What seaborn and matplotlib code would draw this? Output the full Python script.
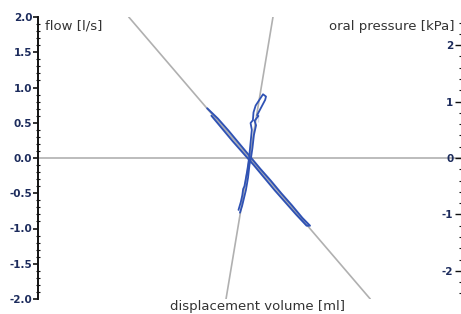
import numpy as np
import pandas as pd
import matplotlib
matplotlib.use("Agg")
import matplotlib.pyplot as plt
from matplotlib.ticker import MultipleLocator
import seaborn as sns

# ----------- Data -----------
# reference lines: flow vs volume and pressure vs volume
ref_flow_vol = [-0.571, 0.571]
ref_flow = [2.0, -2.0]
ref_pres_vol = [-0.111, 0.111]
ref_pres = [-2.5, 2.5]

# measured flow loop (l/s) against displacement volume (ml)
flow_vol = [-0.20, -0.15, -0.10, -0.05, 0.00, 0.05, 0.10, 0.15, 0.20, 0.25, 0.286,
            0.27, 0.22, 0.17, 0.12, 0.07, 0.02, -0.03, -0.08, -0.13, -0.18, -0.20]
flow = [0.71, 0.56, 0.39, 0.21, 0.03, -0.15, -0.32, -0.50, -0.67, -0.85, -0.96,
        -0.96, -0.80, -0.63, -0.46, -0.28, -0.10, 0.07, 0.24, 0.42, 0.60, 0.70]

# measured oral pressure loop (kPa) against displacement volume (ml)
pres_vol = [-0.045, -0.035, -0.026, -0.017, -0.007, 0.000, 0.007, 0.014, 0.021, 0.031,
            0.024, 0.042, 0.036, 0.042, 0.074, 0.078,
            0.064, 0.029, 0.019, 0.016, 0.005, 0.011, 0.004, -0.002, -0.010, -0.020,
            -0.024, -0.030, -0.034, -0.041, -0.052, -0.045]
pressure = [-0.97, -0.85, -0.71, -0.57, -0.35, -0.12, 0.00, 0.18, 0.41, 0.58,
            0.66, 0.64, 0.76, 0.85, 1.03, 1.09,
            1.13, 0.93, 0.81, 0.67, 0.62, 0.50, 0.23, 0.00, -0.21, -0.42,
            -0.50, -0.55, -0.66, -0.78, -0.92, -0.97]

left_ticks = [-2.0, -1.5, -1.0, -0.5, 0.0, 0.5, 1.0, 1.5, 2.0]
right_ticks = [-2, -1, 0, 1, 2]

# ----------- Style -----------
sns.set_style("ticks")
plt.rcParams["font.family"] = ["DejaVu Sans"]

gray = "#b0b0b0"
blue = "#2f52b4"
navy = "#1c2b5c"
text_col = "#333333"

fig = plt.figure(figsize=(4.61, 3.14), dpi=100)
ax = fig.add_axes([38 / 461, 15 / 314, 423 / 461, 282 / 314])
ax2 = ax.twinx()

# ----------- Lines -----------
ax.axhline(0, color=gray, lw=1.2, zorder=1)
sns.lineplot(x=ref_flow_vol, y=ref_flow, ax=ax, color=gray, lw=1.2, sort=False)
sns.lineplot(x=ref_pres_vol, y=ref_pres, ax=ax2, color=gray, lw=1.2, sort=False)
sns.lineplot(x=flow_vol, y=flow, ax=ax, color=blue, lw=1.4, sort=False)
sns.lineplot(x=pres_vol, y=pressure, ax=ax2, color=blue, lw=1.3, sort=False)

# ----------- Axes -----------
ax.set_xlim(-1, 1)
ax.set_ylim(-2, 2)
ax2.set_ylim(-2.5, 2.5)
ax.set_xticks([])
ax.set_xlabel("")
ax.set_ylabel("")
ax2.set_ylabel("")

for s in ["top", "bottom", "right"]:
    ax.spines[s].set_visible(False)
for s in ["top", "bottom", "left", "right"]:
    ax2.spines[s].set_visible(False)
ax.spines["left"].set_linewidth(1.4)
ax.spines["left"].set_color("#111111")

ax.set_yticks(left_ticks)
ax.set_yticklabels([f"{t:.1f}" for t in left_ticks])
ax.yaxis.set_minor_locator(MultipleLocator(0.1))
ax.tick_params(axis="y", which="major", direction="out", length=3.5, width=1.2,
               pad=0.5, labelsize=7.5, labelcolor=navy, color="#111111")
ax.tick_params(axis="y", which="minor", direction="inout", length=2.5, width=0.8,
               color="#111111")
for lab in ax.get_yticklabels():
    lab.set_fontweight("bold")

ax2.set_yticks(right_ticks)
ax2.set_yticklabels([str(t) for t in right_ticks])
ax2.yaxis.set_minor_locator(MultipleLocator(0.2))
ax2.tick_params(axis="y", which="major", direction="in", length=4, width=1.0,
                pad=-5.5, labelsize=7.5, labelcolor=navy, color="#111111")
ax2.tick_params(axis="y", which="minor", direction="in", length=1.2, width=0.8,
                color="#111111")
for lab in ax2.get_yticklabels():
    lab.set_fontweight("bold")
    lab.set_horizontalalignment("right")

# ----------- Axis titles -----------
ax.text(0.017, 0.99, "flow [l/s]", transform=ax.transAxes, ha="left", va="top",
        fontsize=9.5, color=text_col)
ax.text(0.984, 0.99, "oral pressure [kPa]", transform=ax.transAxes, ha="right",
        va="top", fontsize=9.5, color=text_col)
ax.text(0.52, -0.005, "displacement volume [ml]", transform=ax.transAxes,
        ha="center", va="top", fontsize=9.5, color=text_col)

fig.savefig("out.png", dpi=100)
